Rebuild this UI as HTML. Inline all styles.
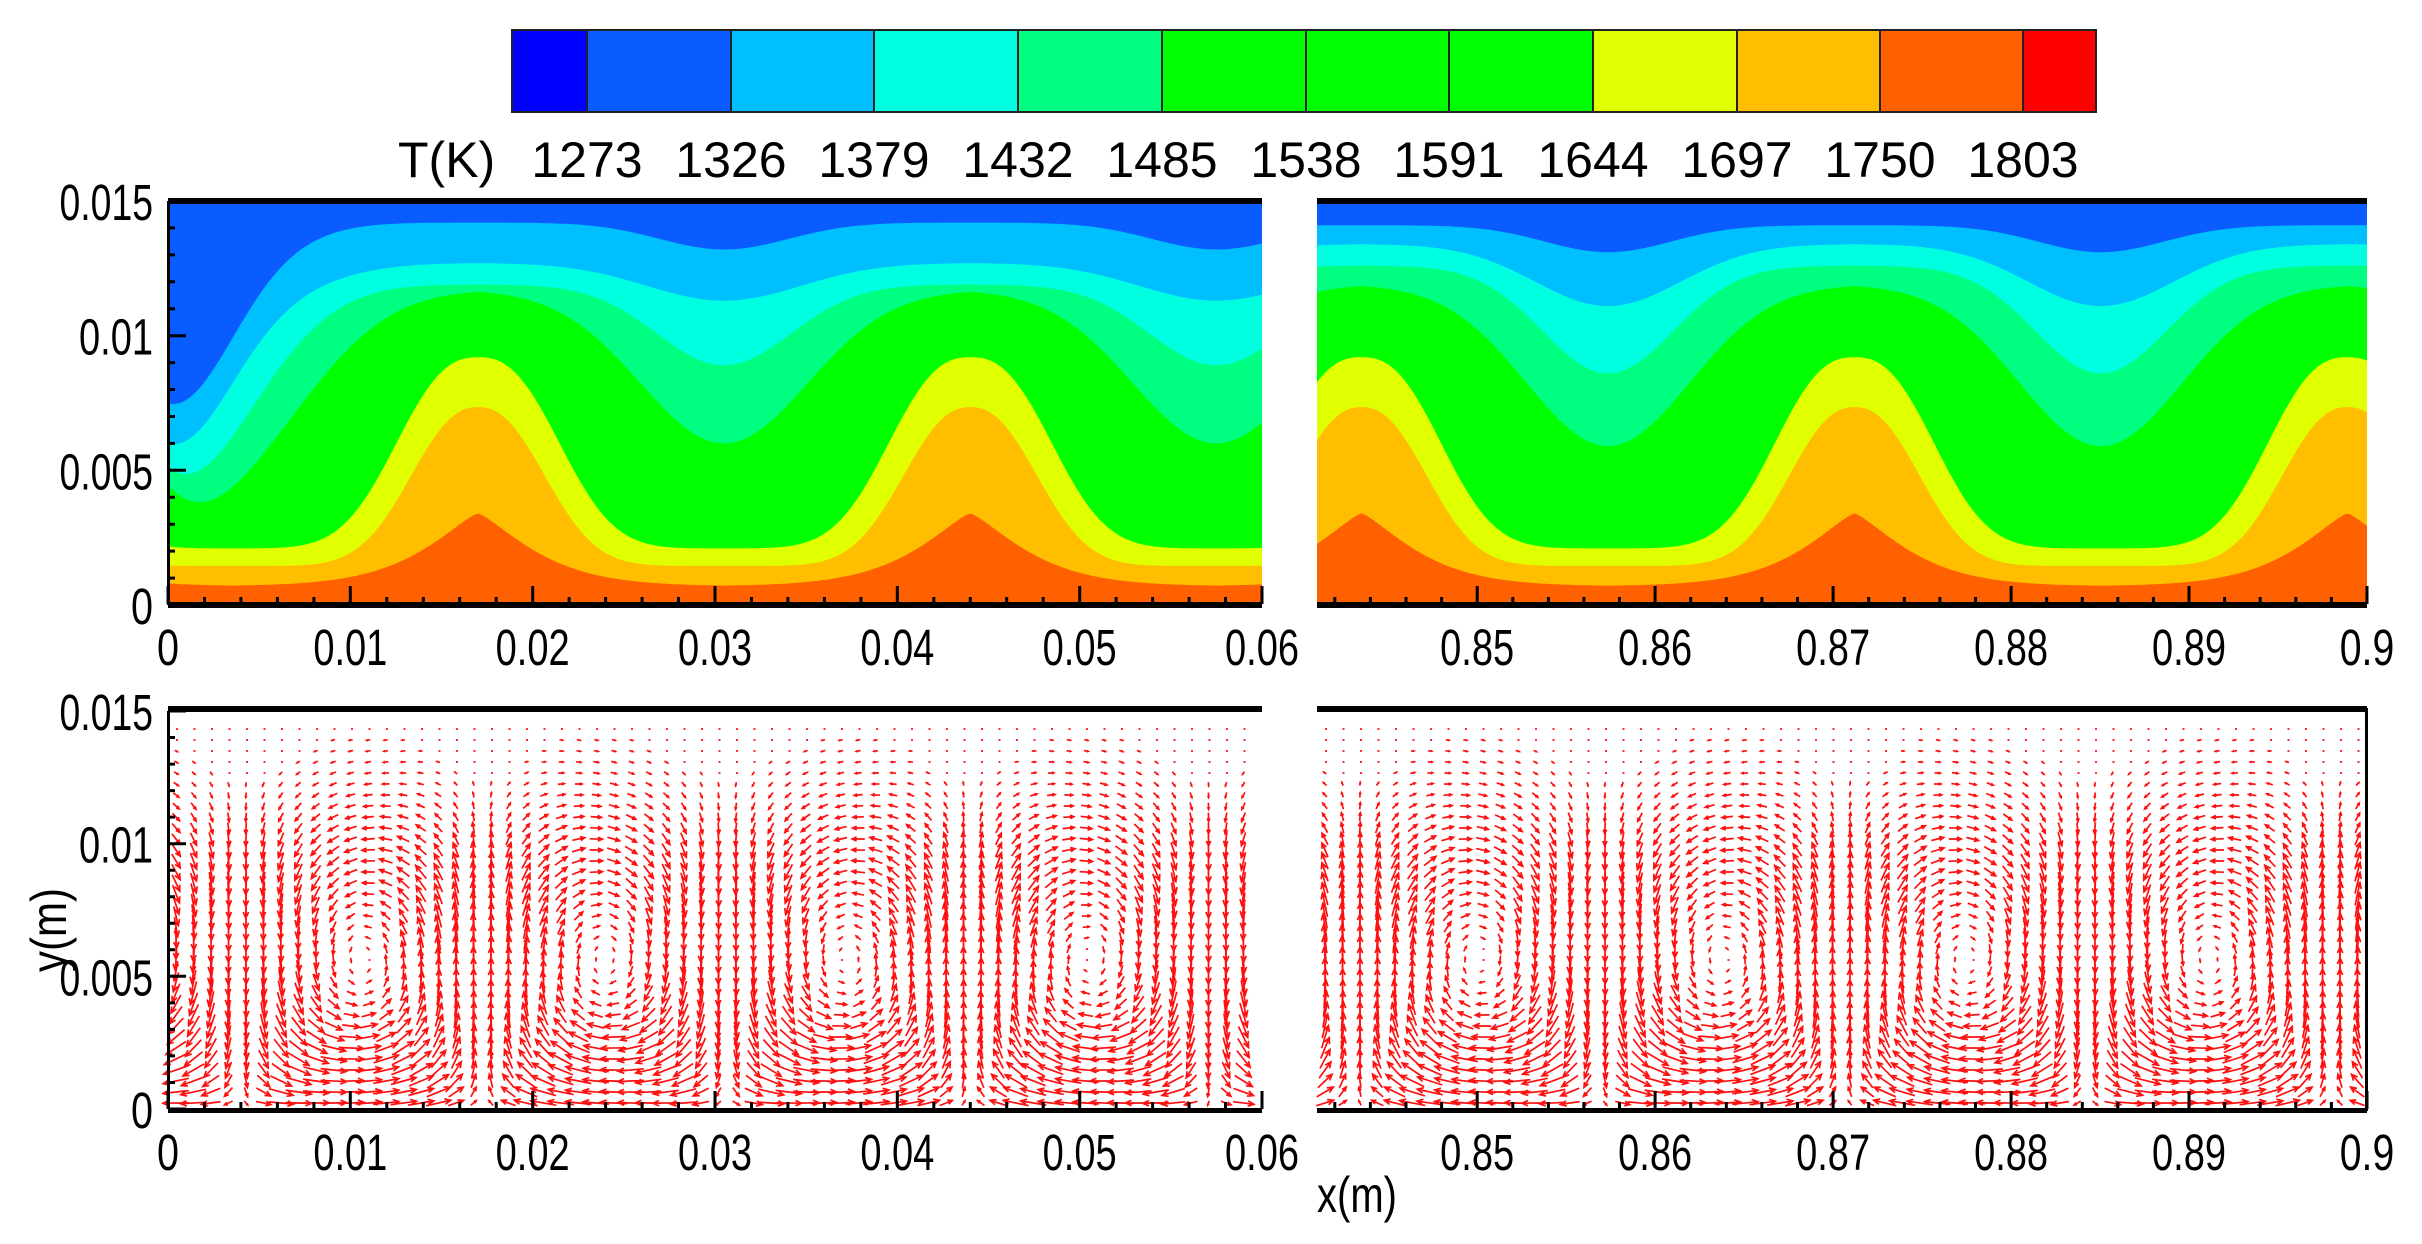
<!DOCTYPE html>
<html><head><meta charset="utf-8">
<style>
html,body{margin:0;padding:0;background:#fff;width:2422px;height:1244px;overflow:hidden}
svg text{font-family:"Liberation Sans",Arial,sans-serif;fill:#000}
</style></head>
<body>
<svg id="s" width="2422" height="1244" viewBox="0 0 2422 1244" xmlns="http://www.w3.org/2000/svg">
<g id="cb"></g>
<g id="tl"></g>
<g id="tr"></g>
<g id="bl"></g>
<g id="br"></g>
<g id="ax"></g>
<g id="tx"></g>
</svg>
<script>
const NS="http://www.w3.org/2000/svg";
function el(p,tag,attrs,txt){const e=document.createElementNS(NS,tag);for(const k in attrs)e.setAttribute(k,attrs[k]);if(txt!==undefined)e.textContent=txt;document.getElementById(p).appendChild(e);return e;}
const cols=["#0000ff","#0a5cff","#00bfff","#00ffe1","#00ff80","#00ff00","#00ff00","#00ff00","#e0ff00","#ffbf00","#ff6000","#ff0000"];
const bds=[512,587,731,874,1018,1162,1306,1449,1593,1737,1880,2023,2096];
for(let i=0;i<12;i++){el("cb","rect",{x:bds[i],y:30,width:bds[i+1]-bds[i],height:82,fill:cols[i],stroke:"#222","stroke-width":2});}
const labs=["1273","1326","1379","1432","1485","1538","1591","1644","1697","1750","1803"];
for(let i=0;i<11;i++)el("tx","text",{x:bds[i+1],y:177,"font-size":50,"text-anchor":"middle"},labs[i]);
el("tx","text",{x:398,y:177,"font-size":50},"T(K)");

function dist(x,c0,P){let d=((x-c0)%P+P)%P;return Math.min(d,P-d);}
function makeContour(g,X0,X1,x0,x1,plume0,P,up,leftExtra){
  const Y=y=>605-y/0.015*404;
  const X=x=>X0+(x-x0)/(x1-x0)*(X1-X0);
  const down0=plume0+P/2;
  el(g,"rect",{x:X0,y:201,width:X1-X0,height:404,fill:"#ff6000"});
  const lower=[["#ffbf00",0.0007,0.0027,0.004,1.3],["#e0ff00",0.00145,0.0059,0.0047,2.3],["#00ff00",0.0021,0.0071,0.0055,2.5]];
  const N=400;
  function poly(fn,color){
    let pts=[];
    for(let i=0;i<=N;i++){const x=x0+(x1-x0)*i/N;let y=fn(x);y=Math.max(0,Math.min(0.015,y));pts.push(X(x).toFixed(1)+","+Y(y).toFixed(1));}
    pts.push(X1+",201");pts.push(X0+",201");
    el(g,"polygon",{points:pts.join(" "),fill:color});
  }
  for(const [c,b,a,w,p] of lower){poly(x=>b+a*Math.exp(-Math.pow(dist(x,plume0,P)/w,p)),c);}
  for(let k=0;k<up.length;k++){const [c,top,depth,w,ex]=up[k];
    poly(x=>{let y=top-depth*Math.exp(-Math.pow(dist(x,down0,P)/w,2));if(leftExtra)y-=ex*Math.exp(-Math.pow((x-x0)/0.0045,2));return y;},c);}
  el(g,"rect",{x:X0,y:198,width:X1-X0,height:6,fill:"#000"});
  el(g,"rect",{x:X0,y:602,width:X1-X0,height:6,fill:"#000"});
}
makeContour("tl",168,1262,0,0.06,0.017,0.027,[
 ["#00ff80",0.0117,0.0057,0.0065,0.003],
 ["#00ffe1",0.0119,0.003,0.0052,0.0049],
 ["#00bfff",0.0127,0.0014,0.006,0.0057],
 ["#0a5cff",0.0142,0.0010,0.005,0.0061]],true);
makeContour("tr",1317,2367,0.841,0.9,0.8435,0.0277,[
 ["#00ff80",0.0119,0.006,0.0065,0],
 ["#00ffe1",0.0126,0.004,0.0052,0],
 ["#00bfff",0.0134,0.0023,0.0058,0],
 ["#0a5cff",0.0141,0.0010,0.005,0]],false);

function makeVec(g,X0,X1,x0,x1,b0,L){
  const Yb=1109,Yt=711;
  const H=0.0145,pp=0.735;
  let d="";
  for(let py=Yb-6;py>Yb-0.0146/0.015*(Yb-Yt);py-=11){
    for(let px=X0+8;px<X1-4;px+=17.5){
      const x=x0+(px-X0)/(X1-X0)*(x1-x0);const y=(Yb-py)/(Yb-Yt)*0.015;
      const yn=Math.max(y,1e-5)/H;
      const s=Math.pow(yn,pp);
      const k=Math.PI/L;const xp=x-b0;
      const dsn=pp*Math.pow(yn,pp-1);
      const sx=Math.sin(k*xp);
      let u=sx*Math.cos(Math.PI*s)*Math.min(dsn,1.6);
      let v=-Math.cos(k*xp)*Math.sin(Math.PI*s);
      const cx=(Math.floor(xp/L)+0.5)*L;const cy=H*Math.pow(0.5,1/pp);
      const rx=(cx-xp)/L, ry=(cy-y)/H;
      u+=0.3*rx*Math.abs(sx); v+=0.3*ry*Math.abs(sx);
      const env=1/(1+Math.pow(y/0.0112,8));
      let vx=u*30*env, vy=-v*30*env;
      let m=Math.hypot(vx,vy);
      if(m>26){vx*=26/m;vy*=26/m;m=26;}
      if(m<3){d+=`M${px.toFixed(1)} ${py.toFixed(1)}h2`;continue;}
      const ax=px-vx/2,ay=py-vy/2,bx=px+vx/2,by=py+vy/2;
      const ux=vx/m,uy=vy/m,h=Math.min(6,m*0.35);
      d+=`M${ax.toFixed(1)} ${ay.toFixed(1)}L${bx.toFixed(1)} ${by.toFixed(1)}M${(bx-ux*h-uy*h*0.45).toFixed(1)} ${(by-uy*h+ux*h*0.45).toFixed(1)}L${bx.toFixed(1)} ${by.toFixed(1)}L${(bx-ux*h+uy*h*0.45).toFixed(1)} ${(by-uy*h-ux*h*0.45).toFixed(1)}`;
    }
  }
  el(g,"path",{d:d,stroke:"#ff1010","stroke-width":1.7,fill:"none"});
  el(g,"rect",{x:X0,y:706,width:X1-X0,height:6,fill:"#000"});
  el(g,"rect",{x:X0,y:1108,width:X1-X0,height:5,fill:"#000"});
}
makeVec("bl",168,1262,0,0.06,0.004,0.0133);
makeVec("br",1317,2367,0.841,0.9,0.8295,0.0137);
el("br","rect",{x:2365,y:708,width:3,height:403,fill:"#000"});

function lab(x,y,t,anchor){const e=el("tx","text",{x:x,y:y,"font-size":51,"text-anchor":anchor},t);e.setAttribute("textLength",t.length==1?22:t.length*19.5-4);e.setAttribute("lengthAdjust","spacingAndGlyphs");return e;}
function xAxis(X0,X1,x0,x1,yb,majors,labels,ly){
  const X=x=>X0+(x-x0)/(x1-x0)*(X1-X0);
  let d="";
  const st=Math.ceil(x0/0.002-1e-6);
  for(let i=st;i*0.002<=x1+1e-9;i++){const x=i*0.002;const px=X(x);const mj=Math.abs(i%5)==0;d+=`M${px.toFixed(1)} ${yb}v-${mj?18:7}`;}
  el("ax","path",{d:d,stroke:"#000","stroke-width":3});
  majors.forEach((m,i)=>lab(X(m),ly,labels[i],"middle"));
}
function yAxis(X0,yb,yt){
  let d="";
  for(let i=0;i<=15;i++){const py=yb-i/15*(yb-yt);d+=`M${X0} ${py.toFixed(1)}h${i%5==0?18:7}`;}
  el("ax","path",{d:d,stroke:"#000","stroke-width":3});
  el("ax","rect",{x:X0-1,y:yt,width:3,height:yb-yt,fill:"#000"});
  ["0","0.005","0.01","0.015"].forEach((t,i)=>{const py=yb-i*5/15*(yb-yt);lab(153,py+19,t,"end");});
}
const lm=[0,0.01,0.02,0.03,0.04,0.05,0.06],ll=["0","0.01","0.02","0.03","0.04","0.05","0.06"];
const rm=[0.85,0.86,0.87,0.88,0.89,0.9],rl=["0.85","0.86","0.87","0.88","0.89","0.9"];
xAxis(168,1262,0,0.06,604,lm,ll,665);
xAxis(1317,2367,0.841,0.9,604,rm,rl,665);
xAxis(168,1262,0,0.06,1109,lm,ll,1170);
xAxis(1317,2367,0.841,0.9,1109,rm,rl,1170);
yAxis(168,605,201);
yAxis(168,1109,711);
el("tx","text",{x:1317,y:1212,"font-size":50,textLength:80,lengthAdjust:"spacingAndGlyphs"},"x(m)");
el("tx","text",{x:0,y:0,"font-size":50,"text-anchor":"middle",transform:"translate(66,930) rotate(-90)",textLength:84,lengthAdjust:"spacingAndGlyphs"},"y(m)");
</script>
</body></html>
